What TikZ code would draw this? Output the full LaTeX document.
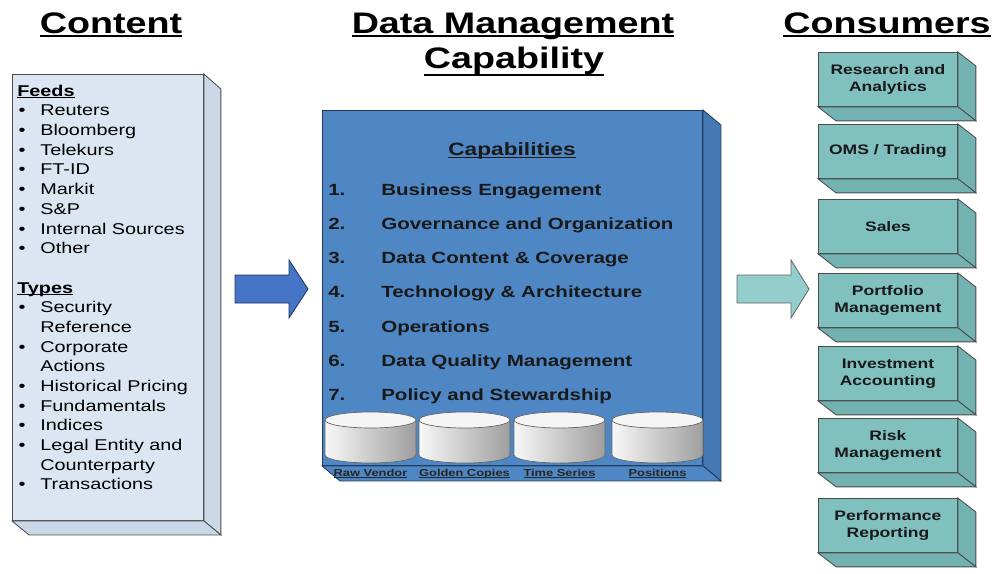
\documentclass[tikz,border=0pt]{standalone}
\usepackage{fontspec}
\setmainfont[FakeStretch=1.27]{Liberation Sans}
\usetikzlibrary{calc,positioning}

\definecolor{contfill}{HTML}{DCE6F2}
\definecolor{contside}{HTML}{CAD7E7}
\definecolor{capfill}{HTML}{4F87C4}
\definecolor{capside}{HTML}{4479B3}
\definecolor{capedge}{HTML}{1F3A5C}
\definecolor{consfill}{HTML}{80C0BF}
\definecolor{consside}{HTML}{72B3B2}
\definecolor{inarrow}{HTML}{4674C6}
\definecolor{outarrow}{HTML}{93CDCC}

\newcommand{\ultext}[3]{\leavevmode\setbox0=\hbox{#1}\rlap{\rule[-#2]{\wd0}{#3}}\box0}
\newcommand{\bul}{\makebox[16.4pt][l]{\hspace{1pt}\textbullet}}
\newcommand{\ind}{\hspace*{16.4pt}}

\begin{document}
\begin{tikzpicture}[x=0.025cm,y=-0.025cm,
    edge/.style={draw=black!70, line width=0.6pt},
    cube/.style={edge, anchor=north west, inner sep=0pt},
    consumer/.style={cube, fill=consfill, minimum width=3.475cm, minimum height=1.35cm,
        align=center, font=\fontsize{9.8}{12.1}\selectfont\bfseries, text=black!90},
    title/.style={anchor=base, inner sep=0pt, font=\fontsize{21.1}{25}\selectfont\bfseries},
    capitem/.style={anchor=base west, inner sep=0pt, font=\fontsize{11.5}{13}\selectfont\bfseries, text=black!90},
    dblabel/.style={anchor=base, inner sep=0pt, font=\fontsize{7.2}{8}\selectfont\bfseries, text=black!85}]
    \useasboundingbox (0,0) rectangle (992,573);

    % titles
    \node[title] (tcontent) at (111,33) {\ultext{Content}{2.8pt}{1.6pt}};
    \node[title] (tdmc) at (513,33) {\ultext{Data Management}{2.8pt}{1.6pt}};
    \node[title] (tcap) at (514,68) {\ultext{Capability}{6pt}{1.6pt}};
    \node[title] (tcons) at (887,33) {\ultext{Consumers}{2.8pt}{1.6pt}};

    % content box
    \node[cube, fill=contfill, minimum width=4.775cm, minimum height=11.15cm] (content) at (12,74) {};
    \draw[edge, fill=contside] (content.north east) -- ++(17,15) -- ([shift={(17,14)}]content.south east) -- (content.south east) -- cycle;
    \draw[edge, fill=contside] (content.south west) -- ++(17,14) -- ([shift={(17,14)}]content.south east) -- (content.south east) -- cycle;
    \node[anchor=north west, inner sep=0pt, align=left, font=\fontsize{11.1}{14}\selectfont] (feeds) at (17,84.6) {%
        \ultext{\textbf{Feeds}}{1.6pt}{1pt}\\
        \bul Reuters\\
        \bul Bloomberg\\
        \bul Telekurs\\
        \bul FT-ID\\
        \bul Markit\\
        \bul S\&P\\
        \bul Internal Sources\\
        \bul Other\\[14pt]
        \ultext{\textbf{Types}}{1.6pt}{1pt}\\
        \bul Security\\
        \ind Reference\\
        \bul Corporate\\
        \ind Actions\\
        \bul Historical Pricing\\
        \bul Fundamentals\\
        \bul Indices\\
        \bul Legal Entity and\\
        \ind Counterparty\\
        \bul Transactions};

    % arrows
    \filldraw[fill=inarrow, draw=capedge, line width=0.6pt] (235,275) -- (289,275) -- (289,260) -- (308,289)
        -- (289,318) -- (289,303) -- (235,303) -- cycle;
    \filldraw[fill=outarrow, draw=black!60, line width=0.6pt] (737,275) -- (791,275) -- (791,260) -- (809,289)
        -- (791,318) -- (791,303) -- (737,303) -- cycle;

    % data management box
    \node[cube, draw=capedge, fill=capfill, minimum width=9.5cm, minimum height=8.875cm] (dmc) at (322,110) {};
    \draw[edge, draw=capedge, fill=capside] (dmc.north east) -- ++(18,15) -- ([shift={(18,15)}]dmc.south east) -- (dmc.south east) -- cycle;
    \draw[edge, draw=capedge, fill=capfill] (dmc.south west) -- ++(18,15) -- ([shift={(18,15)}]dmc.south east) -- (dmc.south east) -- cycle;
    \node[anchor=base, inner sep=0pt, font=\fontsize{12.7}{15}\selectfont\bfseries, text=black!90] (caps) at (512,155)
        {\ultext{Capabilities}{2.2pt}{0.8pt}};
    \foreach \txt [count=\i] in {Business Engagement, Governance and Organization, Data Content \& Coverage,
        Technology \& Architecture, Operations, Data Quality Management, Policy and Stewardship} {
        \node[capitem] (num\i) at (328,161.3+34.17*\i) {\i.};
        \node[capitem] (cap\i) at (381,161.3+34.17*\i) {\txt};
    }

    % data stores
    \foreach \cx/\lbl [count=\i] in {370.5/Raw Vendor, 464.5/Golden Copies, 559.5/Time Series, 657.5/Positions} {
        \shadedraw[left color=black!3, right color=black!38, draw=black!60, line width=0.5pt]
            (\cx-45.5,420) -- (\cx-45.5,455) arc[start angle=180, end angle=0, x radius=45.5, y radius=8]
            -- (\cx+45.5,420) -- cycle;
        \filldraw[fill=black!4, draw=black!60, line width=0.5pt] (\cx,420) ellipse [x radius=45.5, y radius=8];
        \node[dblabel] (db\i) at (\cx,476) {\ultext{\lbl}{1.3pt}{0.6pt}};
    }

    % consumers
    \foreach \top/\txt [count=\i] in {52/{Research and\\Analytics}, 124/{OMS / Trading}, 199/{Sales},
        273/{Portfolio\\Management}, 346/{Investment\\Accounting}, 418/{Risk\\Management},
        498/{Performance\\Reporting}} {
        \node[consumer] (cons\i) at (818,\top) {\txt};
        \draw[edge, fill=consside] (cons\i.north east) -- ++(18,14) -- ([shift={(18,14)}]cons\i.south east) -- (cons\i.south east) -- cycle;
        \draw[edge, fill=consside] (cons\i.south west) -- ++(18,14) -- ([shift={(18,14)}]cons\i.south east) -- (cons\i.south east) -- cycle;
    }
\end{tikzpicture}
\end{document}
